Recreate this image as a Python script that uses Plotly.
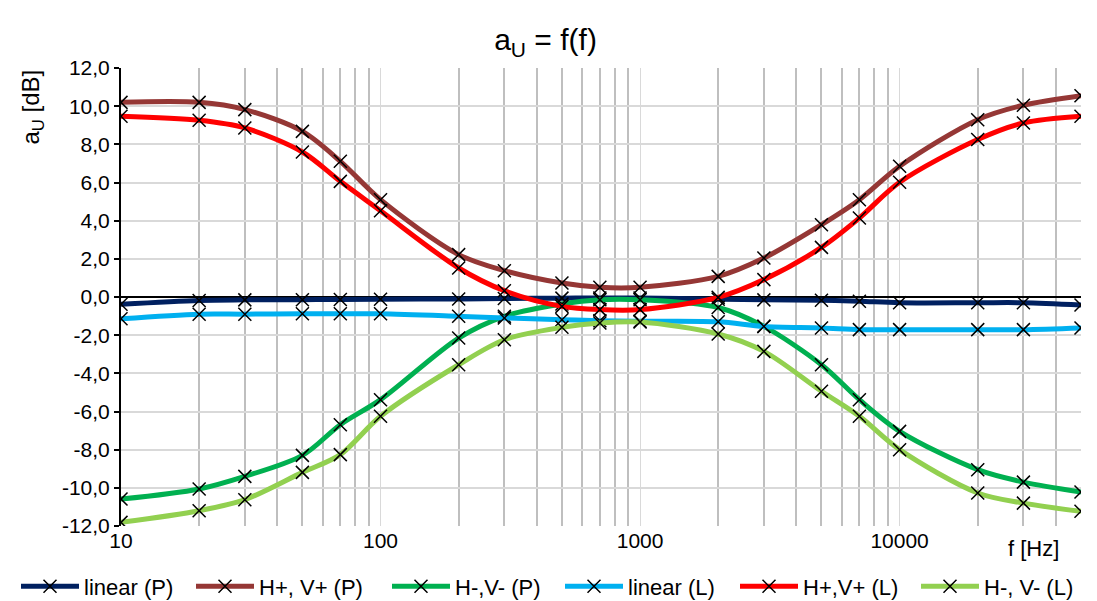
import plotly.graph_objects as go
import math

# ---- data ----
freq = [10, 20, 30, 50, 70, 100, 200, 300, 500, 700, 1000, 2000, 3000, 5000, 7000,
        10000, 20000, 30000, 50000]

linear_P = [-0.38, -0.18, -0.15, -0.14, -0.13, -0.12, -0.10, -0.08, -0.06, -0.05, -0.05,
            -0.12, -0.15, -0.17, -0.22, -0.30, -0.30, -0.30, -0.42]
hv_plus_P = [10.20, 10.20, 9.82, 8.68, 7.11, 5.10, 2.22, 1.38, 0.73, 0.51, 0.51,
             1.08, 2.04, 3.79, 5.10, 6.85, 9.29, 10.05, 10.55]
hv_minus_P = [-10.59, -10.06, -9.40, -8.30, -6.69, -5.38, -2.15, -1.01, -0.37, -0.14, -0.14,
              -0.55, -1.54, -3.55, -5.38, -7.04, -9.05, -9.70, -10.22]
linear_L = [-1.14, -0.90, -0.90, -0.88, -0.88, -0.88, -1.01, -1.10, -1.19, -1.24, -1.27,
            -1.30, -1.54, -1.62, -1.71, -1.71, -1.71, -1.71, -1.62]
hv_plus_L = [9.47, 9.26, 8.86, 7.60, 6.06, 4.52, 1.52, 0.33, -0.49, -0.66, -0.66,
             -0.02, 0.91, 2.60, 4.14, 6.01, 8.25, 9.12, 9.47]
hv_minus_L = [-11.81, -11.20, -10.62, -9.19, -8.26, -6.25, -3.55, -2.24, -1.59, -1.36, -1.31,
              -1.94, -2.85, -4.94, -6.25, -8.00, -10.27, -10.80, -11.23]

series_names = ["linear (P)", "H+, V+ (P)", "H-,V- (P)", "linear (L)", "H+,V+ (L)", "H-, V- (L)"]
series_values = [linear_P, hv_plus_P, hv_minus_P, linear_L, hv_plus_L, hv_minus_L]
series_colors = ["#002060", "#953735", "#00B050", "#00B0F0", "#FF0000", "#92D050"]

x_tickvals = [10, 100, 1000, 10000]
x_ticktext = ["10", "100", "1000", "10000"]
y_tickvals = list(range(-12, 13, 2))
y_ticktext = ["-12,0", "-10,0", "-8,0", "-6,0", "-4,0", "-2,0", "0,0",
              "2,0", "4,0", "6,0", "8,0", "10,0", "12,0"]

FONT = "Liberation Sans, Arial, sans-serif"

# layout constants (pixel positions of each legend entry's line start)
ML, MR, MT, MB = 113, 24, 60, 83
W, H = 1097, 601
PW = W - ML - MR
legend_px = [24, 199, 395, 568, 743, 924]
LEG_OFFSET = 16

fig = go.Figure()
legend_ids = ["legend"] + ["legend%d" % (i + 1) for i in range(1, len(series_names))]
for name, vals, col, lid in zip(series_names, series_values, series_colors, legend_ids):
    fig.add_trace(go.Scatter(
        x=freq, y=vals, name=name, mode="lines+markers", legend=lid,
        line=dict(color=col, width=5, shape="spline", smoothing=0.9),
        marker=dict(symbol="x-thin", size=13, color="black",
                    line=dict(color="black", width=1.5)),
    ))

legend_layouts = {}
for lid, px in zip(legend_ids, legend_px):
    legend_layouts[lid] = dict(
        orientation="h", x=(px - LEG_OFFSET - ML) / PW, xref="paper", xanchor="left",
        y=-0.132, yref="paper", yanchor="middle",
        font=dict(family=FONT, size=22, color="black"),
        itemwidth=58, bgcolor="rgba(0,0,0,0)")

minor_vals = [m * 10 ** e for e in range(1, 5) for m in range(2, 10) if m * 10 ** e <= 50000]

fig.update_layout(
    width=W, height=H, autosize=False,
    margin=dict(l=ML, r=MR, t=MT, b=MB, autoexpand=False),
    paper_bgcolor="white", plot_bgcolor="white",
    font=dict(family=FONT, size=21, color="black"),
    title=dict(text="a<sub>U</sub> = f(f)", x=0.49, xref="container", xanchor="center",
               y=0.947, yref="container", yanchor="middle",
               font=dict(family=FONT, size=30, color="black")),
    showlegend=True,
    xaxis=dict(type="log", range=[1, math.log10(50000)],
               tickvals=x_tickvals, ticktext=x_ticktext, ticks="",
               showgrid=True, gridcolor="#D9D9D9", gridwidth=1,
               minor=dict(tickvals=minor_vals, showgrid=True, gridcolor="#BFBFBF",
                          gridwidth=2, ticks=""),
               showline=False, zeroline=False, automargin=False,
               tickfont=dict(family=FONT, size=21, color="black")),
    yaxis=dict(range=[-12, 12], tickvals=y_tickvals, ticktext=y_ticktext,
               ticks="outside", ticklen=5, tickcolor="black", tickwidth=1.5,
               showgrid=True, gridcolor="#D9D9D9", gridwidth=1.5,
               showline=True, linecolor="black", linewidth=2,
               zeroline=True, zerolinecolor="black", zerolinewidth=2, automargin=False,
               tickfont=dict(family=FONT, size=21, color="black")),
    annotations=[
        dict(text="f [Hz]", xref="paper", yref="paper", x=0.951, y=-0.05,
             xanchor="center", yanchor="middle", showarrow=False,
             font=dict(family=FONT, size=22, color="black")),
        dict(text="a<sub>U</sub> [dB]", xref="paper", yref="paper", x=-0.092, y=0.915,
             xanchor="center", yanchor="middle", textangle=-90, showarrow=False,
             font=dict(family=FONT, size=24, color="black")),
    ],
    **legend_layouts,
)

fig.write_html("out.html")
